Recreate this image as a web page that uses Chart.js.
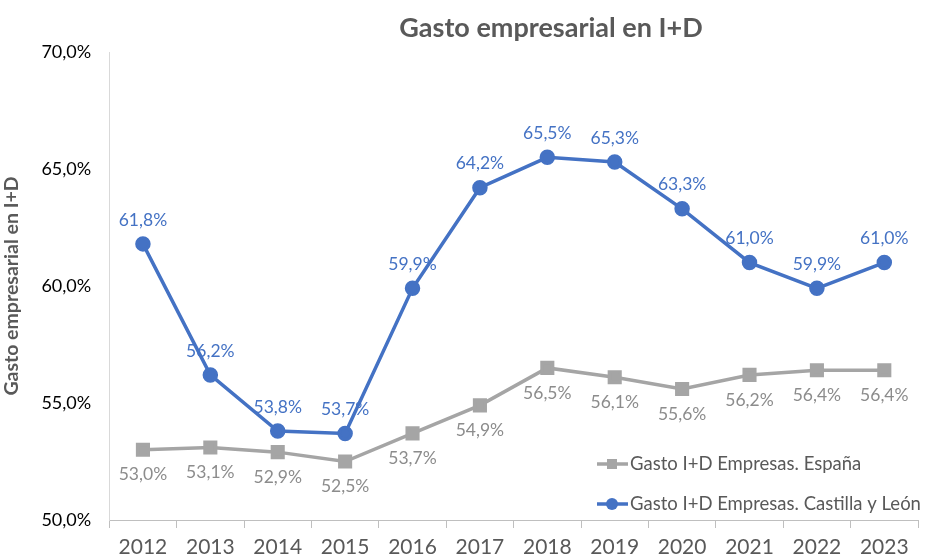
<!DOCTYPE html>
<html>
<head>
<meta charset="utf-8">
<script src="https://cdn.jsdelivr.net/npm/chart.js@4"></script>
<style>
  html, body { margin: 0; padding: 0; background: #fff; }
  #wrap { width: 932px; height: 560px; }
</style>
</head>
<body>
<div id="wrap"><canvas id="grafico"></canvas></div>
<script>
const anios = ["2012", "2013", "2014", "2015", "2016", "2017", "2018", "2019", "2020", "2021", "2022", "2023"];
const espana = [53.0, 53.1, 52.9, 52.5, 53.7, 54.9, 56.5, 56.1, 55.6, 56.2, 56.4, 56.4];
const castillaLeon = [61.8, 56.2, 53.8, 53.7, 59.9, 64.2, 65.5, 65.3, 63.3, 61.0, 59.9, 61.0];
const nombres = ["Gasto I+D Empresas. España", "Gasto I+D Empresas. Castilla y León"];
const yTicks = [50, 55, 60, 65, 70];

const FUENTE = "Lato, 'Open Sans', sans-serif";
const AZUL = "#4472C4";
const GRIS = "#A5A5A5";

const pct = v => v.toFixed(1).replace(".", ",") + "%";

// etiquetas de datos, titulo y leyenda
const extras = {
  id: "extras",
  afterDatasetsDraw(chart) {
    const ctx = chart.ctx;
    ctx.save();
    ctx.textAlign = "center";
    ctx.textBaseline = "middle";
    ctx.font = "17.5px " + FUENTE;
    chart.data.datasets.forEach((ds, i) => {
      const meta = chart.getDatasetMeta(i);
      ctx.fillStyle = i === 0 ? "#8C8C8C" : AZUL;
      meta.data.forEach((pt, j) => {
        const dy = i === 0 ? 25 : -24;
        ctx.fillText(pct(ds.data[j]), pt.x, pt.y + dy);
      });
    });

    // titulo
    ctx.font = "bold 27px " + FUENTE;
    ctx.fillStyle = "#595959";
    ctx.fillText("Gasto empresarial en I+D", 551, 28);

    // leyenda
    ctx.font = "18.5px " + FUENTE;
    ctx.textAlign = "left";
    const filas = [
      { y: 464, color: GRIS, estilo: "rect" },
      { y: 504, color: AZUL, estilo: "circle" }
    ];
    filas.forEach((f, i) => {
      ctx.strokeStyle = f.color;
      ctx.lineWidth = 3.5;
      ctx.beginPath();
      ctx.moveTo(597, f.y);
      ctx.lineTo(628, f.y);
      ctx.stroke();
      ctx.fillStyle = f.color;
      if (f.estilo === "rect") {
        ctx.fillRect(607, f.y - 5, 10, 10);
      } else {
        ctx.beginPath();
        ctx.arc(612, f.y, 6, 0, Math.PI * 2);
        ctx.fill();
      }
      ctx.fillStyle = "#595959";
      ctx.fillText(nombres[i], 630, f.y);
    });
    ctx.restore();
  }
};

new Chart(document.getElementById("grafico"), {
  type: "line",
  data: {
    labels: anios,
    datasets: [
      {
        label: nombres[0],
        data: espana,
        borderColor: GRIS,
        backgroundColor: GRIS,
        borderWidth: 3.5,
        pointStyle: "rect",
        pointRadius: 7.5,
        pointHoverRadius: 7.5,
        tension: 0
      },
      {
        label: nombres[1],
        data: castillaLeon,
        borderColor: AZUL,
        backgroundColor: AZUL,
        borderWidth: 3.5,
        pointStyle: "circle",
        pointRadius: 6,
        pointHoverRadius: 6,
        tension: 0
      }
    ]
  },
  options: {
    responsive: true,
    maintainAspectRatio: false,
    animation: false,
    layout: { padding: { top: 52, right: 14, left: 0, bottom: -7 } },
    plugins: {
      legend: { display: false },
      title: { display: false },
      tooltip: { enabled: false }
    },
    scales: {
      x: {
        offset: true,
        grid: {
          display: true,
          offset: true,
          drawOnChartArea: false,
          drawTicks: true,
          tickLength: 8,
          color: "#BFBFBF",
          lineWidth: 1
        },
        border: { display: true, color: "#BFBFBF", width: 1 },
        ticks: {
          color: "#595959",
          font: { family: FUENTE, size: 21, lineHeight: 1 },
          padding: 9,
          maxRotation: 0
        }
      },
      y: {
        min: 50,
        max: 70,
        afterBuildTicks(axis) {
          axis.ticks = yTicks.map(v => ({ value: v }));
        },
        grid: { display: false, drawTicks: false },
        border: { display: true, color: "#D9D9D9", width: 1 },
        ticks: {
          color: "#000000",
          font: { family: FUENTE, size: 18 },
          padding: 18,
          callback: v => pct(v)
        },
        title: {
          display: true,
          text: "Gasto empresarial en I+D",
          color: "#595959",
          font: { family: FUENTE, size: 19.5, weight: "bold" },
          padding: { top: 0, bottom: 0 }
        }
      }
    }
  },
  plugins: [extras]
});
</script>
</body>
</html>
